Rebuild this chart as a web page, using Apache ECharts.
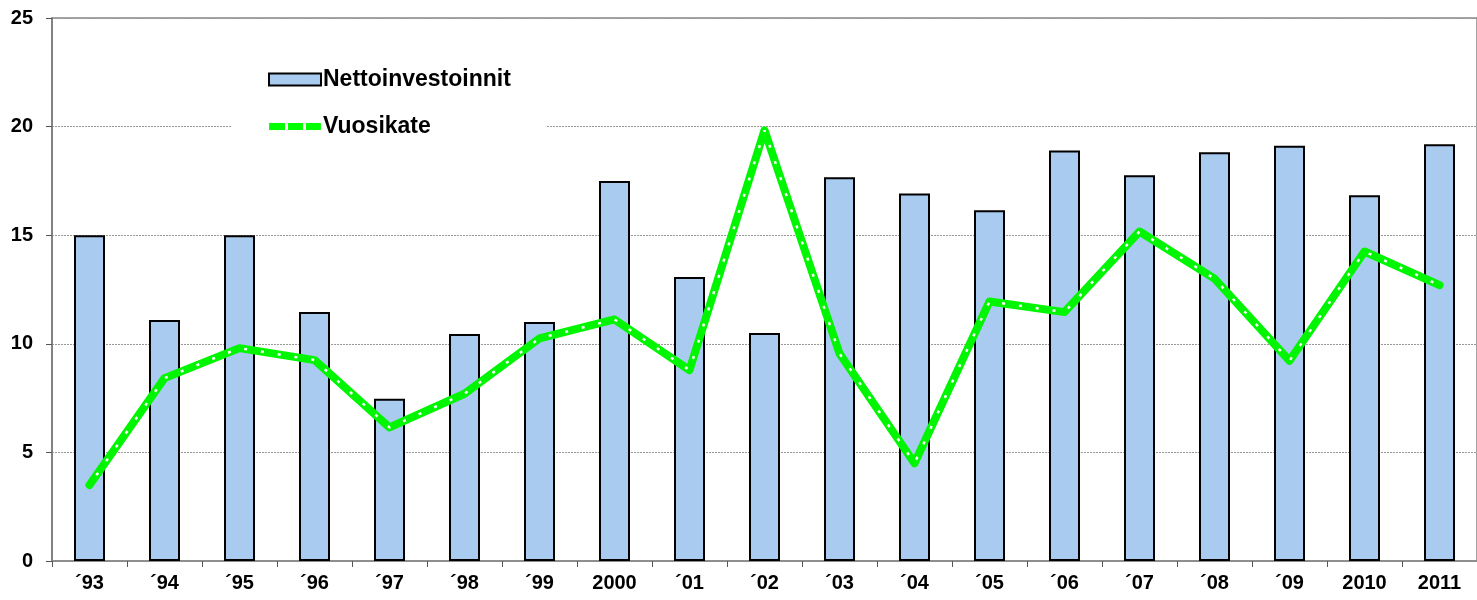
<!DOCTYPE html>
<html>
<head>
<meta charset="utf-8">
<script src="https://cdn.jsdelivr.net/npm/echarts@6/dist/echarts.min.js"></script>
<style>
html,body{margin:0;padding:0;background:#fff;}
#c{width:1477px;height:600px;}
</style>
</head>
<body>
<div id="c"></div>
<script>
const categories = ['´93','´94','´95','´96','´97','´98','´99','2000','´01','´02','´03','´04','´05','´06','´07','´08','´09','2010','2011'];
const nettoinvestoinnit = [15.0,11.1,15.0,11.46,7.47,10.45,11.0,17.5,13.08,10.5,17.67,16.92,16.15,18.9,17.76,18.82,19.12,16.84,19.19];
const vuosikate = [3.5,8.42,9.8,9.25,6.15,7.7,10.25,11.12,8.79,19.83,9.55,4.5,11.95,11.46,15.17,13.0,9.22,14.25,12.7];
const yTicks = [0,5,10,15,20,25];

const chart = echarts.init(document.getElementById('c'));
const font = 'Liberation Sans, Arial, sans-serif';
const dashIcon = 'path://M0,0h0.05v0.05h-0.05z M52,12h0.05v0.05h-0.05z M0,2.5h16v7h-16z M19,2.5h15v7h-15z M37,2.5h15v7h-15z';
chart.setOption({
  animation: false,
  backgroundColor: '#fff',
  grid: {left: 52, top: 18, width: 1431, height: 543, show: true, borderColor: '#888', borderWidth: 1.5, backgroundColor: 'transparent'},
  legend: {
    orient: 'vertical', left: 232, top: 60,
    padding: [8, 35, 12, 36], itemGap: 24,
    backgroundColor: '#fff',
    itemWidth: 52, itemHeight: 12,
    textStyle: {fontFamily: font, fontWeight: 'bold', fontSize: 23, color: '#000', padding: [0,0,0,-3]},
    data: [
      {name: 'Nettoinvestoinnit', icon: 'rect', itemStyle: {color: '#a9cbef', borderColor: '#000', borderWidth: 2}},
      {name: 'Vuosikate', icon: dashIcon, itemStyle: {color: '#00ff00', borderWidth: 0}}
    ]
  },
  xAxis: {
    type: 'category', data: categories, boundaryGap: true,
    axisLine: {lineStyle: {color: '#888', width: 1.5}},
    axisTick: {show: true, length: 6, lineStyle: {color: '#555'}},
    axisLabel: {fontFamily: font, fontWeight: 'bold', fontSize: 20, color: '#000', margin: 12, interval: 0}
  },
  yAxis: {
    type: 'value', min: 0, max: 25, interval: 5,
    axisLine: {show: true, lineStyle: {color: '#777', width: 1.5}},
    axisTick: {show: true, length: 6, lineStyle: {color: '#555'}},
    axisLabel: {fontFamily: font, fontWeight: 'bold', fontSize: 20, color: '#000', margin: 19,
      formatter: v => yTicks.includes(v) ? String(v) : ''},
    splitLine: {show: true, lineStyle: {color: '#999', type: [2, 1], width: 1}}
  },
  series: [
    {
      name: 'Nettoinvestoinnit', type: 'bar', data: nettoinvestoinnit, barWidth: 31,
      itemStyle: {color: '#a9cbef', borderColor: '#000', borderWidth: 2}, z: 2
    },
    {
      name: 'Vuosikate', type: 'line', data: vuosikate, symbol: 'none',
      lineStyle: {color: '#00f500', width: 8, cap: 'round', join: 'round'},
      itemStyle: {color: '#00ff00'}, z: 3
    },
    {
      name: 'vk_overlay', type: 'line', data: vuosikate, symbol: 'none', silent: true,
      lineStyle: {color: '#ffffff', width: 2.5, type: [3, 14], dashOffset: 5},
      z: 4
    }
  ]
});
</script>
</body>
</html>
